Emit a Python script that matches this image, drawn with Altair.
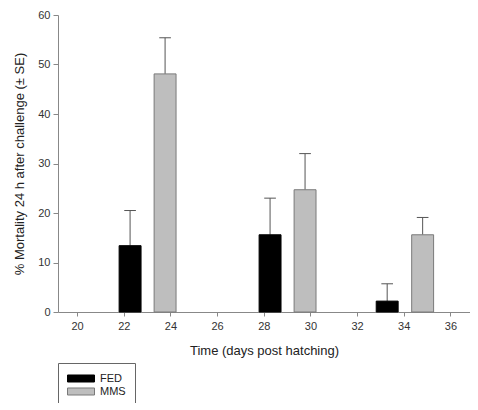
import altair as alt
import pandas as pd

days = [22.27, 23.77, 28.27, 29.77, 33.29, 34.81]
series = ["FED", "MMS", "FED", "MMS", "FED", "MMS"]
mortality = [13.4, 48.1, 15.6, 24.7, 2.2, 15.6]
se = [7.1, 7.3, 7.4, 7.3, 3.5, 3.5]
x_ticks = [20, 22, 24, 26, 28, 30, 32, 34, 36]
y_ticks = [0, 10, 20, 30, 40, 50, 60]

df = pd.DataFrame({"day": days, "series": series, "mortality": mortality, "se": se})

FONT = "Liberation Sans"
half = 0.47
cap = 0.25

base = alt.Chart(df).transform_calculate(
    x0=f"datum.day - {half}",
    x1=f"datum.day + {half}",
    top="datum.mortality + datum.se",
    c0=f"datum.day - {cap}",
    c1=f"datum.day + {cap}",
)

xscale = alt.Scale(domain=[19.18, 36.84], nice=False, zero=False)
yscale = alt.Scale(domain=[0, 60], nice=False)

xaxis = alt.Axis(values=x_ticks, title="Time (days post hatching)", grid=False,
                 tickSize=4, labelPadding=4, titlePadding=13, domainColor="#888",
                 tickColor="#888", labelColor="#333", titleColor="#222",
                 labelFontSize=11, titleFontSize=13, labelFont=FONT, titleFont=FONT,
                 titleFontWeight="normal", format="d")
yaxis = alt.Axis(values=y_ticks, title="% Mortality 24 h after challenge (± SE)", grid=False,
                 tickSize=5, labelPadding=3, titlePadding=11, domainColor="#888",
                 tickColor="#888", labelColor="#333", titleColor="#222",
                 labelFontSize=11, titleFontSize=13, labelFont=FONT, titleFont=FONT,
                 titleFontWeight="normal")

legend = alt.Legend(title=None, orient="none", legendX=0, legendY=348,
                    symbolType="M-1,-0.26L1,-0.26L1,0.26L-1,0.26Z", symbolSize=729,
                    clipHeight=13,
                    symbolStrokeWidth=1, labelFont=FONT, labelFontSize=11, labelColor="#222",
                    strokeColor="#666", padding=9, rowPadding=0, labelOffset=5)

fill_scale = alt.Scale(domain=["FED", "MMS"], range=["#000000", "#bebebe"])
stroke_scale = alt.Scale(domain=["FED", "MMS"], range=["#000000", "#7a7a7a"])

err = base.mark_rule(color="#555", strokeWidth=1).encode(
    x=alt.X("day:Q", scale=xscale, axis=xaxis),
    y=alt.Y("mortality:Q", scale=yscale, axis=yaxis),
    y2="top:Q",
)
caps = base.mark_rule(color="#555", strokeWidth=1).encode(
    x=alt.X("c0:Q", scale=xscale),
    x2="c1:Q",
    y=alt.Y("top:Q", scale=yscale),
)
bars = base.mark_rect(strokeWidth=1).encode(
    x=alt.X("x0:Q", scale=xscale),
    x2="x1:Q",
    y=alt.Y("mortality:Q", scale=yscale),
    y2=alt.datum(0),
    fill=alt.Fill("series:N", scale=fill_scale, legend=legend),
    stroke=alt.Stroke("series:N", scale=stroke_scale, legend=legend),
)

chart = alt.layer(err, caps, bars).properties(
    width=412, height=297,
    autosize=alt.AutoSizeParams(type="none"),
    padding={"left": 50, "top": 7, "right": 0, "bottom": 91},
    background="white",
).configure_view(stroke=None)

chart.save("out.html", embed_options={"renderer": "svg", "actions": False})
